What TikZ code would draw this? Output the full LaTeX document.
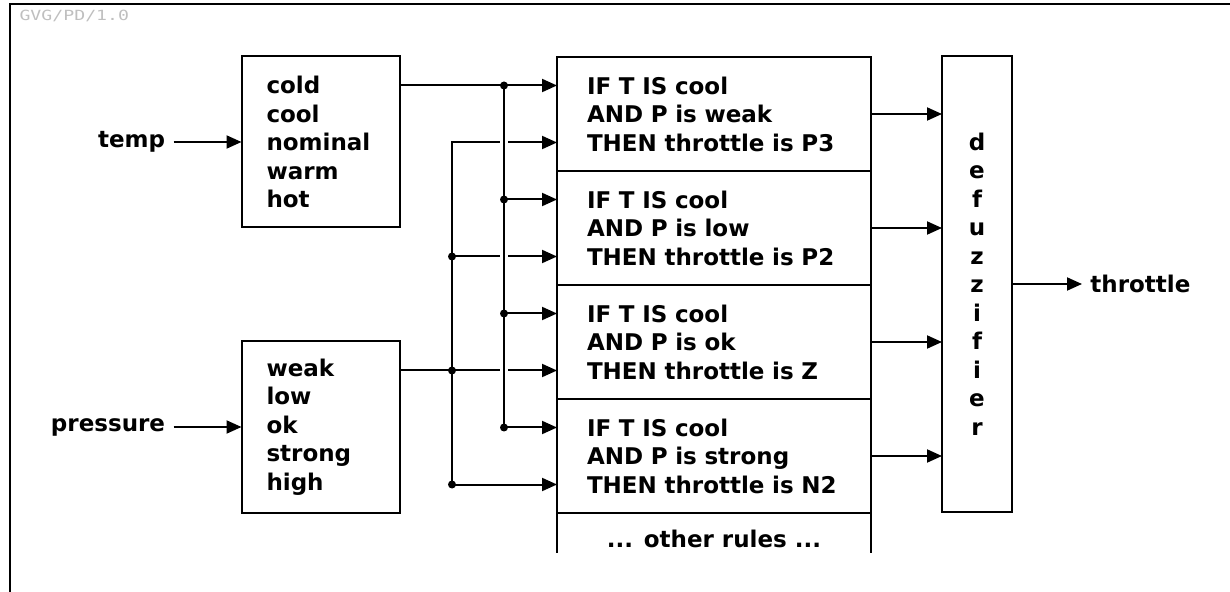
\documentclass[tikz,border=0pt]{standalone}
\usepackage{fontspec}
\setmainfont{DejaVu Sans}
\newfontfamily\stampfont{DejaVu Sans Mono}
\usetikzlibrary{positioning,arrows.meta}
\tikzstyle{box}=[draw,line width=1pt,inner sep=0pt,outer sep=0pt]
\tikzstyle{setbox}=[box,minimum width=79pt,minimum height=85.5pt,text width=54pt,align=left]
\tikzstyle{rulestyle}=[box,minimum width=157pt,minimum height=57pt,text width=127pt,align=left]
\tikzstyle{inlabel}=[inner sep=4pt]
\tikzstyle{arr}=[-{Triangle[length=7.5pt,width=6.5pt]},line width=1pt]
\newcommand{\junction}[1]{\fill (#1) circle[radius=2pt];}
\newcommand{\rulebox}[4]{\node[rulestyle,#2] (#1) {IF T IS cool\\AND P is #3\\THEN throttle is #4};}
\newcommand{\ruleports}[1]{
  \coordinate (t#1) at ([yshift=14.25pt]rule#1.west);
  \coordinate (p#1) at ([yshift=-14.25pt]rule#1.west);}

\begin{document}
\begin{tikzpicture}[x=0.5pt,y=-0.5pt,font=\bfseries\fontsize{11.5pt}{14.25pt}\selectfont]
    \useasboundingbox (0,0) rectangle (1230,592);
    % frame
    \draw[line width=1.2pt] (10,592) -- (10,4) -- (1230,4);
    \node[anchor=west,inner sep=0pt,text=black!25,xscale=1.3,font=\stampfont\fontsize{7pt}{8pt}\selectfont] (stamp) at (19,16) {GVG/PD/1.0};

    % inputs and their fuzzy sets
    \node[setbox] (tempset) at (320.5,142) {cold\\cool\\nominal\\warm\\hot};
    \node[setbox] (presset) at (320.5,427) {weak\\low\\ok\\strong\\high};
    \node[inlabel,left=34pt of tempset] (temp) {temp};
    \node[inlabel,left=34pt of presset] (pressure) {pressure};
    \draw[arr] (temp) -- (tempset);
    \draw[arr] (pressure) -- (presset);

    % rule base
    \rulebox{rule1}{at={(714,114)}}{weak}{P3}
    \rulebox{rule2}{below=0pt of rule1}{low}{P2}
    \rulebox{rule3}{below=0pt of rule2}{ok}{Z}
    \rulebox{rule4}{below=0pt of rule3}{strong}{N2}
    \draw[line width=1pt] (rule4.south west) -- ++(0,40);
    \draw[line width=1pt] (rule4.south east) -- ++(0,40);
    \node (others) at ([yshift=-13pt]rule4.south) {... other rules ...};

    \node[box,minimum width=35pt,minimum height=228pt,align=center] (defuzz) at (977,284) {d\\e\\f\\u\\z\\z\\i\\f\\i\\e\\r};
    \node[inlabel,right=35pt of defuzz] (throttle) {throttle};
    \draw[arr] (defuzz) -- (throttle);

    \foreach \i in {1,...,4} {\ruleports{\i}}
    \coordinate (tbus) at (504,0);
    \coordinate (pbus) at (452,0);

    % pressure wiring
    \draw[arr] (pbus |- p4) -- (pbus |- p1) -- (p1);
    \draw[arr] (pbus |- p2) -- (p2);
    \draw[arr] (presset.east |- p3) -- (p3);
    \draw[arr] (pbus |- p4) -- (p4);

    % temp wiring (crosses over the pressure lines)
    \draw[line width=1pt,preaction={draw=white,line width=4pt}] (tbus |- t1) -- (tbus |- t4);
    \draw[arr] (tempset.east |- t1) -- (t1);
    \draw[arr] (tbus |- t2) -- (t2);
    \draw[arr] (tbus |- t3) -- (t3);
    \draw[arr] (tbus |- t4) -- (t4);

    \junction{tbus |- t1}
    \junction{tbus |- t2}
    \junction{tbus |- t3}
    \junction{tbus |- t4}
    \junction{pbus |- p2}
    \junction{pbus |- p3}
    \junction{pbus |- p4}

    % rule outputs
    \foreach \r in {rule1,rule2,rule3,rule4}
        \draw[arr] (\r.east) -- (\r.east -| defuzz.west);
\end{tikzpicture}
\end{document}
